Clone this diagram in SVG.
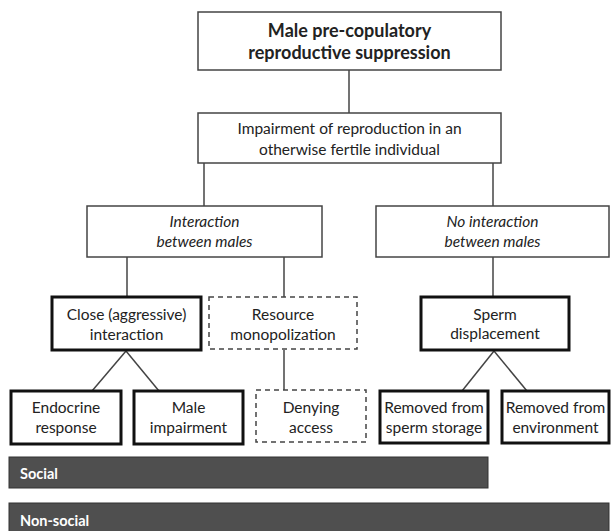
<svg xmlns="http://www.w3.org/2000/svg" width="611" height="531" viewBox="0 0 611 531">
<style>
.thin{fill:#fff;stroke:#444;stroke-width:1.5}
.thick{fill:#fff;stroke:#111;stroke-width:3}
.dash{fill:#fff;stroke:#444;stroke-width:1.5;stroke-dasharray:5,4}
.bar{fill:#4f4f4f;stroke:#333;stroke-width:1}
text{font-family:Lato,"Open Sans","Liberation Sans",sans-serif;font-size:15.5px;fill:#222;text-anchor:middle;dominant-baseline:central}
.b{font-weight:bold;font-size:18px}
.i{font-style:italic}
.w{fill:#fff;font-weight:bold;text-anchor:start;font-size:14.5px}
#connectors line{stroke:#444;stroke-width:1.5}
</style>
<g id="connectors">
<line x1="349" y1="70" x2="349" y2="113"/>
<line x1="204" y1="163" x2="204" y2="206"/>
<line x1="493" y1="163" x2="493" y2="206"/>
<line x1="127" y1="257" x2="127" y2="297"/>
<line x1="284" y1="257" x2="284" y2="297"/>
<line x1="493" y1="257" x2="493" y2="297"/>
<line x1="126" y1="351" x2="92" y2="391"/>
<line x1="126" y1="351" x2="159" y2="391"/>
<line x1="284" y1="350" x2="284" y2="390"/>
<line x1="494" y1="351" x2="462" y2="391"/>
<line x1="494" y1="351" x2="527" y2="391"/>
</g>
<g id="n-title"><rect class="thin" x="198" y="12" width="303" height="58"/>
<text class="b" x="349.5" y="30">Male pre-copulatory</text>
<text class="b" x="349.5" y="52">reproductive suppression</text></g>
<g id="n-impair"><rect class="thin" x="198" y="113" width="303" height="50"/>
<text x="349.5" y="128">Impairment of reproduction in an</text>
<text x="349.5" y="149">otherwise fertile individual</text></g>
<g id="n-inter"><rect class="thin" x="87" y="206" width="235" height="51"/>
<text class="i" x="204.5" y="221">Interaction</text>
<text class="i" x="204.5" y="241">between males</text></g>
<g id="n-nointer"><rect class="thin" x="376" y="206" width="233" height="51"/>
<text class="i" x="492.5" y="221">No interaction</text>
<text class="i" x="492.5" y="241">between males</text></g>
<g id="n-close"><rect class="thick" x="52" y="297" width="149" height="53"/>
<text x="126.5" y="314">Close (aggressive)</text>
<text x="126.5" y="334">interaction</text></g>
<g id="n-resource"><rect class="dash" x="209" y="297" width="148" height="52"/>
<text x="283" y="314">Resource</text>
<text x="283" y="334">monopolization</text></g>
<g id="n-sperm"><rect class="thick" x="421" y="297" width="148" height="53"/>
<text x="495" y="314">Sperm</text>
<text x="495" y="333">displacement</text></g>
<g id="n-endo"><rect class="thick" x="11" y="391" width="110" height="53"/>
<text x="66" y="407">Endocrine</text>
<text x="66" y="427">response</text></g>
<g id="n-male"><rect class="thick" x="134" y="391" width="109" height="53"/>
<text x="188.5" y="407">Male</text>
<text x="188.5" y="427">impairment</text></g>
<g id="n-deny"><rect class="dash" x="256" y="390" width="110" height="52"/>
<text x="311" y="407">Denying</text>
<text x="311" y="427">access</text></g>
<g id="n-storage"><rect class="thick" x="380" y="391" width="108" height="52"/>
<text x="434" y="407">Removed from</text>
<text x="434" y="427">sperm storage</text></g>
<g id="n-env"><rect class="thick" x="502" y="391" width="107" height="52"/>
<text x="555.5" y="407">Removed from</text>
<text x="555.5" y="427">environment</text></g>
<g id="bar-social"><rect class="bar" x="9" y="457" width="479" height="31"/>
<text class="w" x="20" y="473">Social</text></g>
<g id="bar-nonsocial"><rect class="bar" x="9" y="503" width="600" height="30"/>
<text class="w" x="20" y="520">Non-social</text></g>
</svg>
